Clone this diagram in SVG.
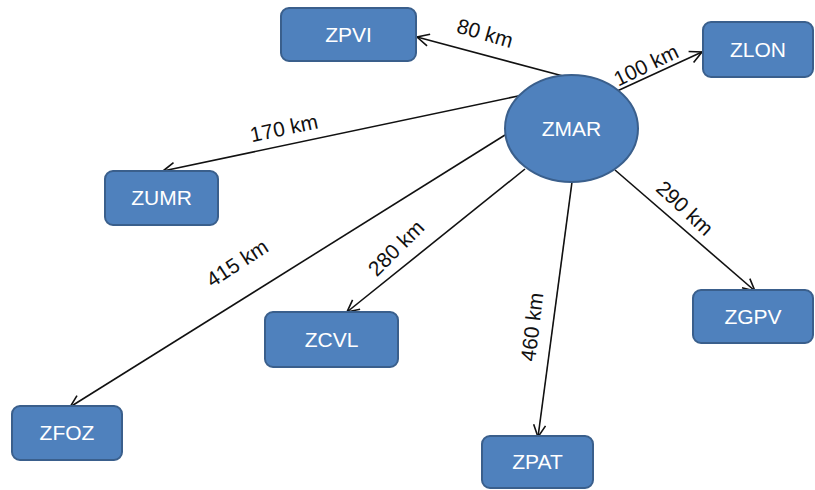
<svg xmlns="http://www.w3.org/2000/svg" width="815" height="490" viewBox="0 0 815 490">
  <style>
    .node { fill: #4F81BD; stroke: #3A5F8C; stroke-width: 2; }
    .nlabel { fill: #FFFFFF; font-family: "Liberation Sans", Arial, sans-serif; font-size: 21px; text-anchor: middle; }
    .edge { stroke: #111111; stroke-width: 1.6; fill: none; marker-end: url(#arrow); }
    .elabel { fill: #111111; font-family: "Liberation Sans", Arial, sans-serif; font-size: 21px; text-anchor: middle; }
  </style>
  <defs>
    <marker id="arrow" viewBox="0 0 14 14" refX="13" refY="7" markerWidth="14" markerHeight="14" markerUnits="userSpaceOnUse" orient="auto">
      <path d="M1,1 L13,7 L1,13" fill="none" stroke="#111111" stroke-width="1.6"/>
    </marker>
  </defs>
  <rect width="815" height="490" fill="#FFFFFF"/>

  <!-- connectors from ZMAR -->
  <g id="connectors">
    <line class="edge" x1="563" y1="76" x2="417" y2="37"/>
    <line class="edge" x1="615" y1="92" x2="702" y2="52"/>
    <line class="edge" x1="523" y1="95" x2="163" y2="171"/>
    <line class="edge" x1="505" y1="135" x2="70" y2="407"/>
    <line class="edge" x1="525" y1="169" x2="347" y2="312"/>
    <line class="edge" x1="572" y1="182" x2="538" y2="437"/>
    <line class="edge" x1="615" y1="170" x2="755" y2="291"/>
    <text class="elabel" transform="translate(485,33) rotate(16)" dy="0.35em">80 km</text>
    <text class="elabel" transform="translate(646,65) rotate(-26)" dy="0.35em">100 km</text>
    <text class="elabel" transform="translate(284,128) rotate(-12)" dy="0.35em">170 km</text>
    <text class="elabel" transform="translate(237,263) rotate(-33)" dy="0.35em">415 km</text>
    <text class="elabel" transform="translate(396,248) rotate(-45)" dy="0.35em">280 km</text>
    <text class="elabel" transform="translate(532,327) rotate(-83)" dy="0.35em">460 km</text>
    <text class="elabel" transform="translate(685,208) rotate(43)" dy="0.35em">290 km</text>
  </g>

  <g id="ZMAR">
    <ellipse class="node" cx="571.5" cy="128.5" rx="66.5" ry="53.5"/>
    <text class="nlabel" x="571.5" y="128.5" dy="0.35em">ZMAR</text>
  </g>
  <g id="ZPVI">
    <rect class="node" x="281" y="8" width="135" height="53" rx="8"/>
    <text class="nlabel" x="348.5" y="34.5" dy="0.35em">ZPVI</text>
  </g>
  <g id="ZLON">
    <rect class="node" x="703" y="22" width="110" height="55" rx="8"/>
    <text class="nlabel" x="758" y="49.5" dy="0.35em">ZLON</text>
  </g>
  <g id="ZUMR">
    <rect class="node" x="105" y="171" width="113" height="54" rx="8"/>
    <text class="nlabel" x="161.5" y="198" dy="0.35em">ZUMR</text>
  </g>
  <g id="ZGPV">
    <rect class="node" x="693" y="290" width="120" height="53" rx="8"/>
    <text class="nlabel" x="753" y="316.5" dy="0.35em">ZGPV</text>
  </g>
  <g id="ZCVL">
    <rect class="node" x="265" y="312" width="133" height="55" rx="8"/>
    <text class="nlabel" x="331.5" y="339.5" dy="0.35em">ZCVL</text>
  </g>
  <g id="ZFOZ">
    <rect class="node" x="12" y="406" width="110" height="54" rx="8"/>
    <text class="nlabel" x="67" y="433" dy="0.35em">ZFOZ</text>
  </g>
  <g id="ZPAT">
    <rect class="node" x="482" y="436" width="111" height="52" rx="8"/>
    <text class="nlabel" x="537.5" y="462" dy="0.35em">ZPAT</text>
  </g>
</svg>
